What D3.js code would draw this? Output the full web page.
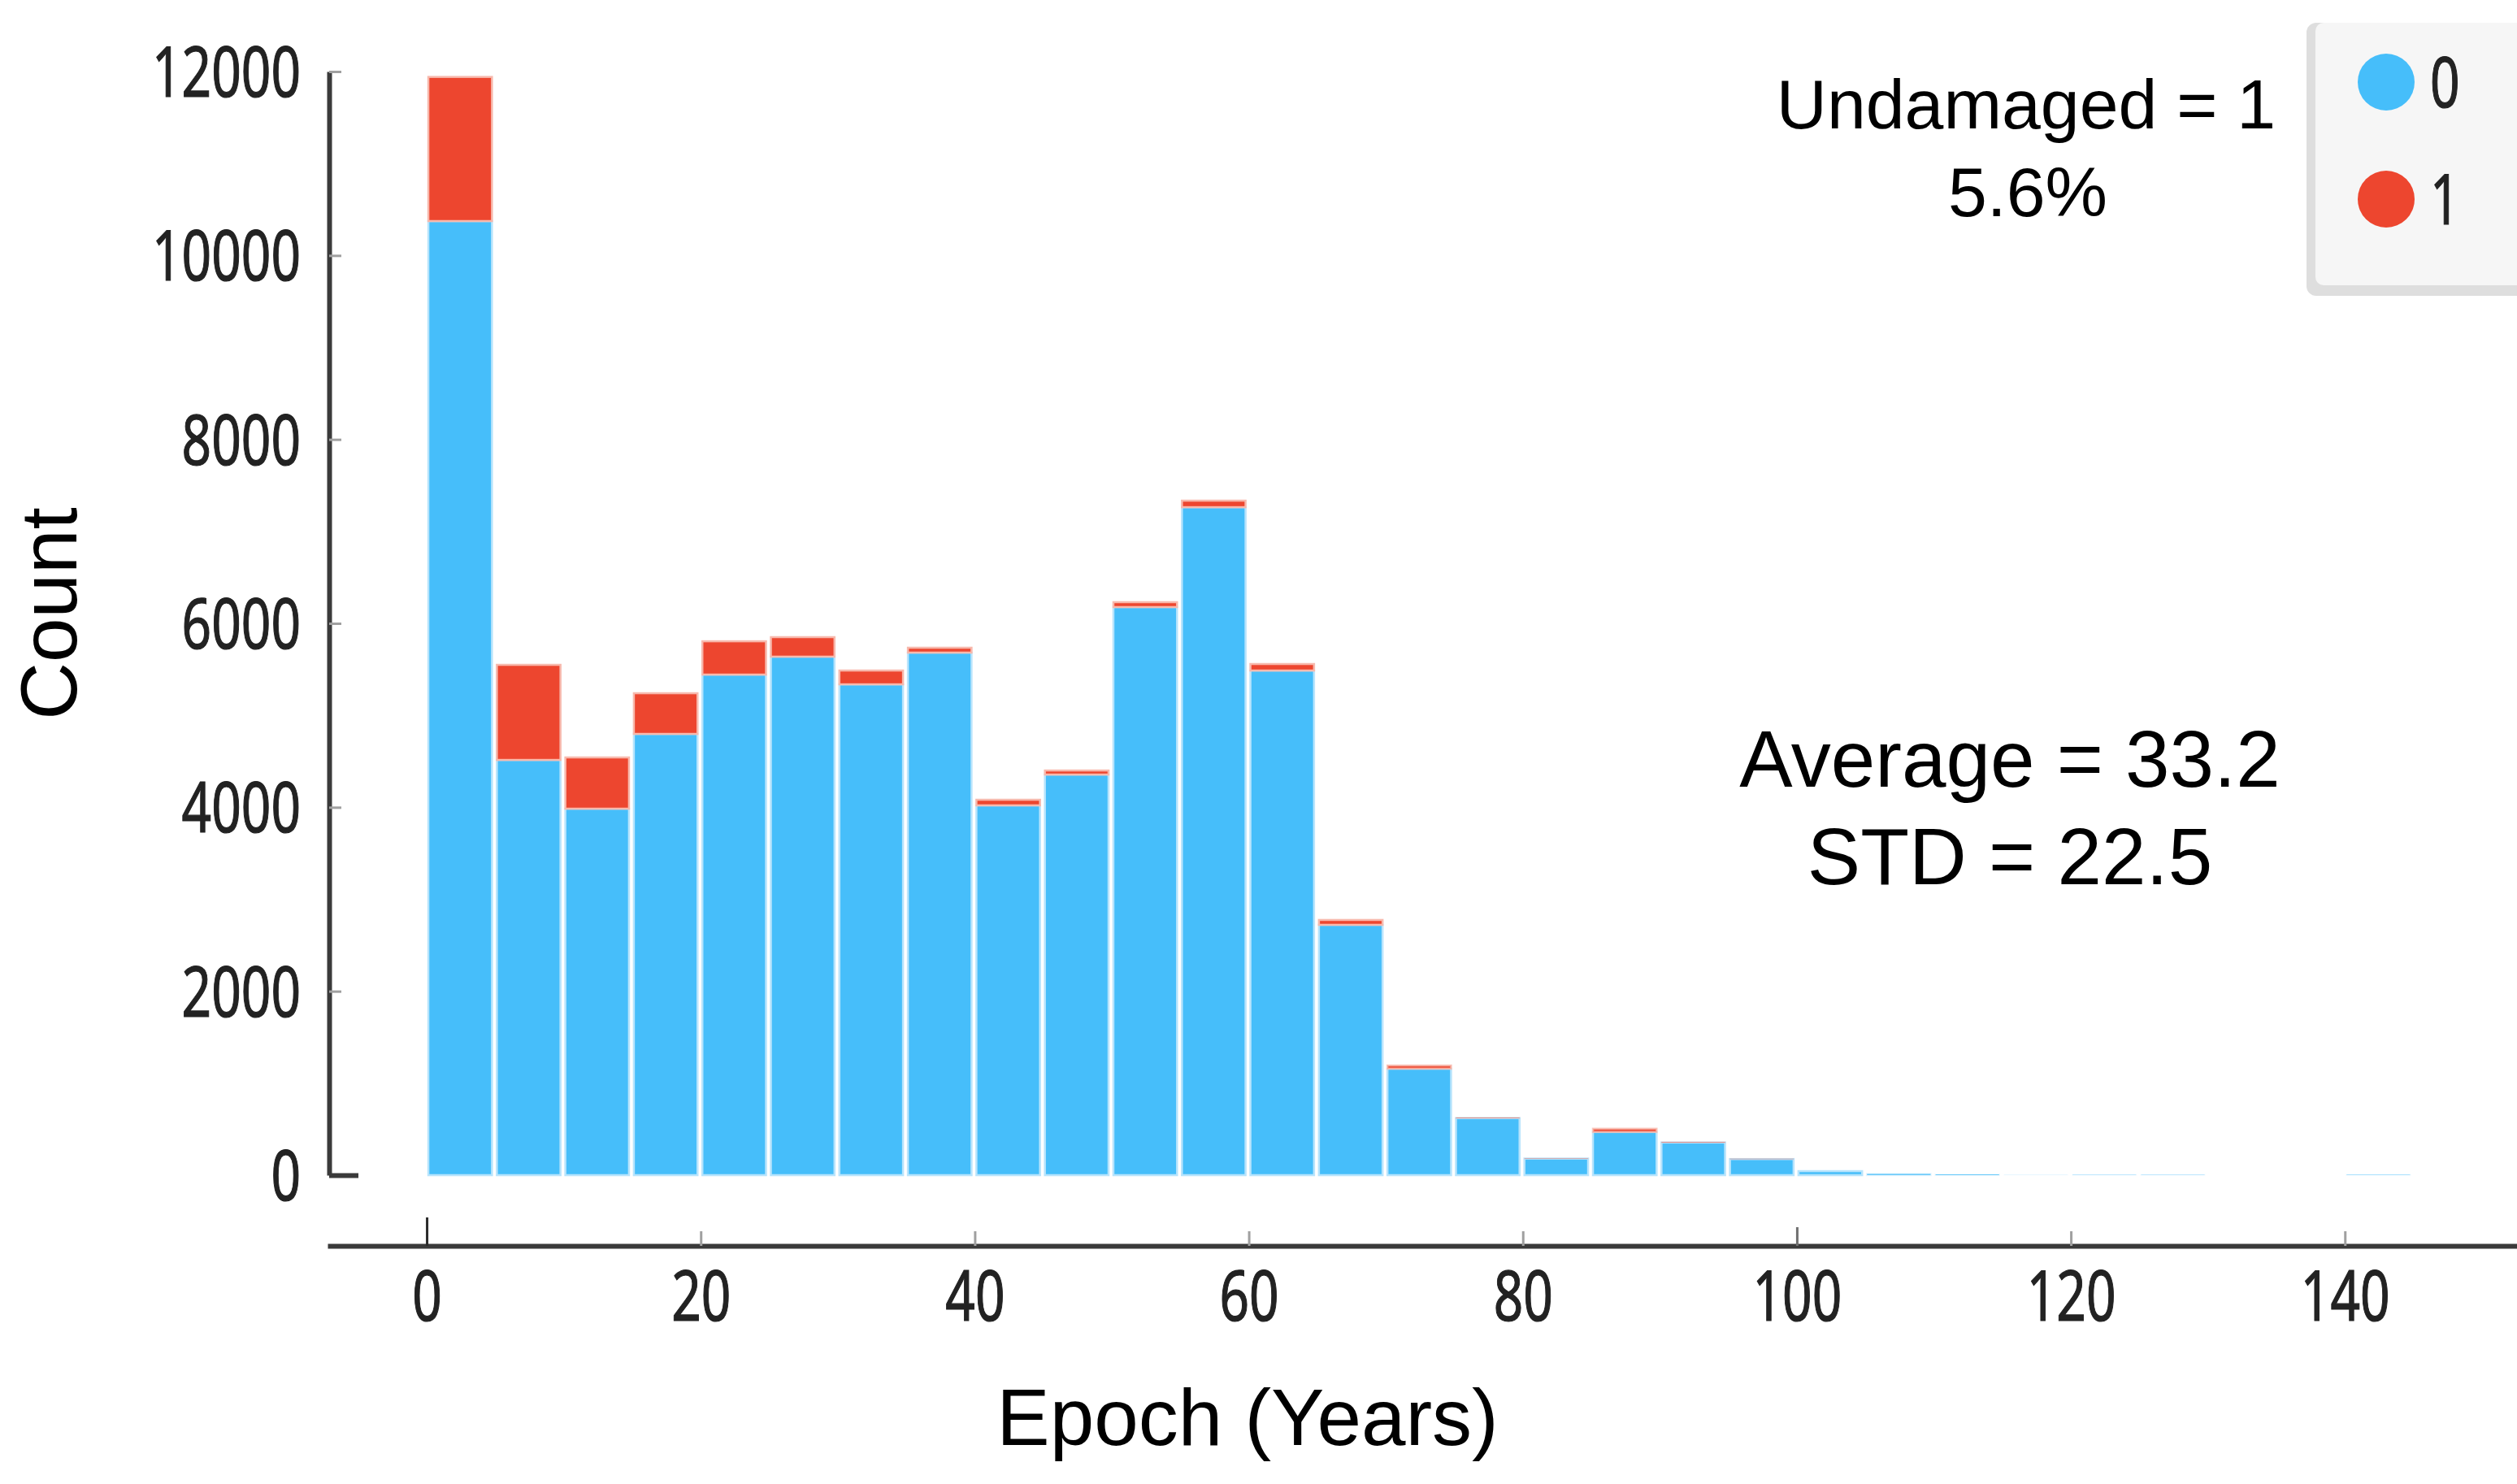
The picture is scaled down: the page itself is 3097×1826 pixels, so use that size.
<!DOCTYPE html>
<html>
<head>
<meta charset="utf-8">
<script src="https://cdn.jsdelivr.net/npm/d3@7"></script>
<style>
  html, body { margin: 0; padding: 0; background: #fff; }
  svg { display: block; }
  .tick text, .legend-label { font-family: "Noto Sans", sans-serif; font-size: 64px; fill: #222; stroke: #222; stroke-width: 0.9px; }
  .note { font-family: "Liberation Sans", Arial, sans-serif; fill: #000; }
</style>
</head>
<body>
<svg id="chart"></svg>
<script>
// histogram bins (start of each 5-year bin)
const binStart = [0, 5, 10, 15, 20, 25, 30, 35, 40, 45, 50, 55, 60, 65, 70,
  75, 80, 85, 90, 95, 100, 105, 110, 115, 120, 125, 130, 135, 140];
// counts of class 0 (blue) and class 1 (red)
const count0 = [10374, 4515, 3985, 4798, 5443, 5638, 5337, 5682, 4021, 4356, 6177, 7263, 5487, 2722, 1158,
  620, 180, 470, 355, 175, 44, 14, 8, 1, 3, 3, 0, 0, 4];
const count1 = [1567, 1034, 557, 442, 362, 212, 150, 53, 61, 44, 53, 71, 71, 53, 35,
  5, 3, 35, 5, 3, 0, 0, 0, 0, 0, 0, 0, 0, 0];
const classNames = ["0", "1"];
const classColors = ["#46befa", "#ed462f"];
const yTicks = [0, 2000, 4000, 6000, 8000, 10000, 12000];
const xTicks = [0, 20, 40, 60, 80, 100, 120, 140];
const binWidth = 5;

const W = 3097, H = 1826;
const labelScaleY = 1.33;   // tick labels of the original are vertically stretched

const svg = d3.select("#chart").attr("width", W).attr("height", H);
svg.append("rect").attr("width", W).attr("height", H).attr("fill", "#fff");

const x = d3.scaleLinear().domain([-7.24, 152.56]).range([403, 3097]);
const y = d3.scaleLinear().domain([0, 12000]).range([1446, 88]);

// stacked bars
const rows = binStart.map((b, i) => ({ start: b, "0": count0[i], "1": count1[i] }));
const series = d3.stack().keys(classNames)(rows);

const barLayer = svg.append("g").attr("class", "bars");
const strokeColors = ["#b8e4fc", "#f7b9ad"];
series.forEach((s, k) => {
  barLayer.append("g")
    .selectAll("rect")
    .data(s)
    .enter()
    .append("rect")
    .attr("x", d => x(d.data.start) + 2)
    .attr("width", d => x(d.data.start + binWidth) - x(d.data.start) - 6)
    .attr("y", d => y(d[1]))
    .attr("height", d => Math.max(0, y(d[0]) - y(d[1])))
    .attr("fill", classColors[k])
    .attr("stroke", strokeColors[k])
    .attr("stroke-width", 2.5)
    .attr("stroke-opacity", d => Math.min(1, (y(d[0]) - y(d[1])) / 5));
});

// y axis
const yAxis = d3.axisLeft(y)
  .tickValues(yTicks)
  .tickSizeInner(-15)
  .tickSizeOuter(0)
  .tickPadding(35)
  .tickFormat(d3.format("d"));
const gy = svg.append("g").attr("class", "y axis").attr("transform", "translate(405,0)").call(yAxis);
gy.select(".domain").attr("stroke", "#3a3a3a").attr("stroke-width", 6);
gy.selectAll(".tick line")
  .attr("stroke", d => (d === 0 ? "#3a3a3a" : "#a0a0a0"))
  .attr("stroke-width", d => (d === 0 ? 6 : 3))
  .attr("x2", d => (d === 0 ? 36 : 15));
gy.selectAll(".tick text")
  .attr("dy", "0.36em")
  .attr("transform", `scale(1,${labelScaleY})`);

// x axis
const xAxis = d3.axisBottom(x)
  .tickValues(xTicks)
  .tickSizeInner(-18)
  .tickSizeOuter(0);
const gx = svg.append("g").attr("class", "x axis").attr("transform", "translate(0,1533)").call(xAxis);
gx.select(".domain").attr("stroke", "#3a3a3a").attr("stroke-width", 6);
gx.selectAll(".tick line")
  .attr("stroke", d => (d === 0 ? "#2a2a2a" : d === 100 ? "#707070" : "#a0a0a0"))
  .attr("stroke-width", 3)
  .attr("y2", d => (d === 0 ? -35 : d === 100 ? -23 : -18));
gx.selectAll(".tick text")
  .attr("y", 92 / labelScaleY)
  .attr("dy", 0)
  .attr("transform", `scale(1,${labelScaleY})`);

// axis titles
svg.append("text").attr("class", "note")
  .attr("transform", "translate(94,755) rotate(-90)")
  .attr("text-anchor", "middle")
  .attr("font-size", 98)
  .text("Count");
svg.append("text").attr("class", "note")
  .attr("x", 1535).attr("y", 1778)
  .attr("text-anchor", "middle")
  .attr("font-size", 98)
  .text("Epoch (Years)");

// annotations
svg.append("text").attr("class", "note")
  .attr("x", 2493).attr("y", 158)
  .attr("text-anchor", "middle").attr("font-size", 86)
  .text("Undamaged = 1");
svg.append("text").attr("class", "note")
  .attr("x", 2495).attr("y", 266)
  .attr("text-anchor", "middle").attr("font-size", 86)
  .text("5.6%");
svg.append("text").attr("class", "note")
  .attr("x", 2473).attr("y", 968)
  .attr("text-anchor", "middle").attr("font-size", 98)
  .text("Average = 33.2");
svg.append("text").attr("class", "note")
  .attr("x", 2473).attr("y", 1088)
  .attr("text-anchor", "middle").attr("font-size", 98)
  .text("STD = 22.5");

// legend
const legend = svg.append("g").attr("class", "legend");
legend.append("rect")
  .attr("x", 2838).attr("y", 28).attr("width", 320).attr("height", 336)
  .attr("rx", 12).attr("fill", "#dedede");
legend.append("rect")
  .attr("x", 2849).attr("y", 28).attr("width", 320).attr("height", 323)
  .attr("rx", 10).attr("fill", "#f6f6f6");
const items = legend.selectAll("g.item")
  .data(classNames)
  .enter()
  .append("g")
  .attr("class", "item")
  .attr("transform", (d, i) => `translate(2936,${101 + i * 144})`);
items.append("circle")
  .attr("r", 35)
  .attr("fill", (d, i) => classColors[i]);
items.append("text")
  .attr("class", "legend-label")
  .attr("x", 54)
  .attr("dy", "0.36em")
  .attr("transform", `scale(1,${labelScaleY})`)
  .text(d => d);
</script>
</body>
</html>
